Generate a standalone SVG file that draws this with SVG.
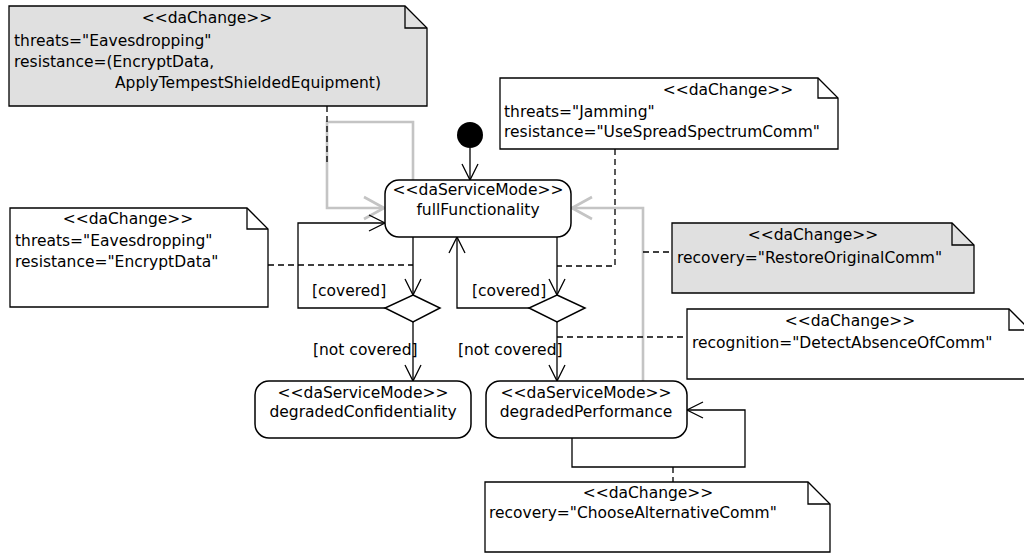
<svg xmlns="http://www.w3.org/2000/svg" width="1024" height="553" viewBox="0 0 1024 553">
  <defs>
    <style>
      text { font-family: "DejaVu Sans", "Liberation Sans", sans-serif; font-size: 15.5px; fill: #000; }
      .mid { text-anchor: middle; }
      .note { fill: #fff; stroke: #000; stroke-width: 1.3; }
      .note.shaded { fill: #e0e0e0; }
      .fold { fill: none; stroke: #000; stroke-width: 1.3; }
      .state { fill: #fff; stroke: #000; stroke-width: 1.5; }
      .flow { fill: none; stroke: #000; stroke-width: 1.3; }
      .recov { fill: none; stroke: #c4c4c4; stroke-width: 2.6; }
      .link { fill: none; stroke: #000; stroke-width: 1.3; stroke-dasharray: 6 4; }
    </style>
    <marker id="arrow" markerUnits="userSpaceOnUse" orient="auto" viewBox="-18 -10 20 20" markerWidth="20" markerHeight="20" refX="0" refY="0">
      <path d="M-16,-8 L0,0 L-16,8" fill="none" stroke="#000" stroke-width="1.3"/>
    </marker>
    <marker id="arrowGray" markerUnits="userSpaceOnUse" orient="auto" viewBox="-24 -14 26 28" markerWidth="26" markerHeight="28" refX="0" refY="0">
      <path d="M-20,-11 L0,0 L-20,11" fill="none" stroke="#c4c4c4" stroke-width="2.6"/>
    </marker>
  </defs>

  <!-- connectors -->
  <g id="connectors">
    <!-- recovery transitions (gray) -->
    <polyline class="recov" points="413,180 413,122 327,122 327,208 384,208" marker-end="url(#arrowGray)"/>
    <polyline class="recov" points="643,381 643,208 572,208" marker-end="url(#arrowGray)"/>

    <!-- ordinary transitions -->
    <line class="flow" x1="470" y1="148" x2="470" y2="180" marker-end="url(#arrow)"/>
    <line class="flow" x1="413" y1="237" x2="413" y2="295" marker-end="url(#arrow)"/>
    <polyline class="flow" points="385,308 298,308 298,223 385,223" marker-end="url(#arrow)"/>
    <line class="flow" x1="413" y1="322" x2="413" y2="381" marker-end="url(#arrow)"/>
    <line class="flow" x1="557" y1="237" x2="557" y2="295" marker-end="url(#arrow)"/>
    <polyline class="flow" points="529,308 457,308 457,237" marker-end="url(#arrow)"/>
    <line class="flow" x1="557" y1="322" x2="557" y2="381" marker-end="url(#arrow)"/>
    <polyline class="flow" points="572,438 572,467 745,467 745,410 687,410" marker-end="url(#arrow)"/>

    <!-- guard labels -->
    <text x="312" y="296">[covered]</text>
    <text x="313" y="355">[not covered]</text>
    <text x="472" y="296">[covered]</text>
    <text x="458" y="355">[not covered]</text>

    <!-- note attachments -->
    <line class="link" x1="327" y1="106" x2="327" y2="165"/>
    <line class="link" x1="268" y1="265" x2="413" y2="265"/>
    <polyline class="link" points="615,149 615,266 557,266"/>
    <line class="link" x1="643" y1="252" x2="672" y2="252"/>
    <line class="link" x1="557" y1="337" x2="687" y2="337"/>
    <line class="link" x1="673" y1="467" x2="673" y2="482"/>
  </g>

  <!-- initial state -->
  <g id="initial">
    <circle cx="470" cy="135" r="13" fill="#000"/>
  </g>

  <!-- service modes -->
  <g id="fullFunctionality">
    <rect class="state" x="385" y="180" width="186" height="57" rx="14"/>
    <text class="mid" x="478" y="195">&lt;&lt;daServiceMode&gt;&gt;</text>
    <text class="mid" x="478" y="215">fullFunctionality</text>
  </g>
  <g id="degradedConfidentiality">
    <rect class="state" x="255" y="381" width="216" height="57" rx="14"/>
    <text class="mid" x="363" y="398">&lt;&lt;daServiceMode&gt;&gt;</text>
    <text class="mid" x="363" y="417">degradedConfidentiality</text>
  </g>
  <g id="degradedPerformance">
    <rect class="state" x="486" y="381" width="201" height="57" rx="14"/>
    <text class="mid" x="586" y="398">&lt;&lt;daServiceMode&gt;&gt;</text>
    <text class="mid" x="586" y="417">degradedPerformance</text>
  </g>

  <!-- decisions -->
  <g id="decisionConfidentiality">
    <polygon class="state" points="413,295 440,308 413,322 385,308"/>
  </g>
  <g id="decisionPerformance">
    <polygon class="state" points="557,295 585,308 557,322 529,308"/>
  </g>

  <!-- change annotations -->
  <g id="noteEavesdroppingTempest">
    <path class="note shaded" d="M9,6 H405 L427,28 V106 H9 Z"/>
    <path class="fold" d="M405,6 V28 H427"/>
    <text class="mid" x="207" y="23">&lt;&lt;daChange&gt;&gt;</text>
    <text x="14" y="46">threats="Eavesdropping"</text>
    <text x="14" y="67">resistance=(EncryptData,</text>
    <text x="115" y="88">ApplyTempestShieldedEquipment)</text>
  </g>
  <g id="noteJamming">
    <path class="note" d="M500,78 H818 L838,98 V149 H500 Z"/>
    <path class="fold" d="M818,78 V98 H838"/>
    <text class="mid" x="728" y="95">&lt;&lt;daChange&gt;&gt;</text>
    <text x="504" y="117">threats="Jamming"</text>
    <text x="504" y="137">resistance="UseSpreadSpectrumComm"</text>
  </g>
  <g id="noteEncryptData">
    <path class="note" d="M10,208 H247 L268,229 V307 H10 Z"/>
    <path class="fold" d="M247,208 V229 H268"/>
    <text class="mid" x="128" y="224">&lt;&lt;daChange&gt;&gt;</text>
    <text x="15" y="246">threats="Eavesdropping"</text>
    <text x="15" y="267">resistance="EncryptData"</text>
  </g>
  <g id="noteRestoreOriginal">
    <path class="note shaded" d="M672,223 H952 L974,245 V293 H672 Z"/>
    <path class="fold" d="M952,223 V245 H974"/>
    <text class="mid" x="813" y="240">&lt;&lt;daChange&gt;&gt;</text>
    <text x="677" y="263">recovery="RestoreOriginalComm"</text>
  </g>
  <g id="noteDetectAbsence">
    <path class="note" d="M687,309 H1009 L1030,330 V379 H687 Z"/>
    <path class="fold" d="M1009,309 V330 H1030"/>
    <text class="mid" x="850" y="326">&lt;&lt;daChange&gt;&gt;</text>
    <text x="692" y="348">recognition="DetectAbsenceOfComm"</text>
  </g>
  <g id="noteChooseAlternative">
    <path class="note" d="M485,482 H808 L830,504 V552 H485 Z"/>
    <path class="fold" d="M808,482 V504 H830"/>
    <text class="mid" x="648" y="498">&lt;&lt;daChange&gt;&gt;</text>
    <text x="489" y="518">recovery="ChooseAlternativeComm"</text>
  </g>
</svg>
